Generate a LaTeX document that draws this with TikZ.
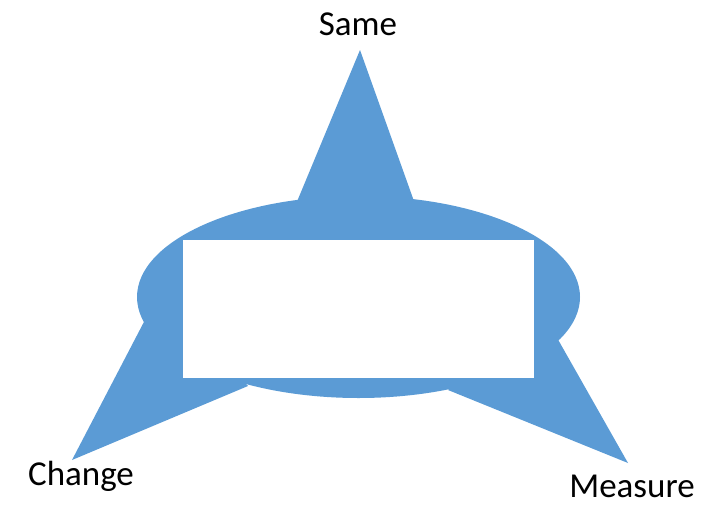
\documentclass[tikz,border=0pt]{standalone}
\usepackage{fontspec}
\setmainfont{Carlito}
\definecolor{officeblue}{HTML}{5B9BD5}
\tikzset{
  blueshape/.style={fill=officeblue, draw=none},
  lbl/.style={font=\fontsize{35}{40}\selectfont, text=black, inner sep=0pt, anchor=base}
}
\begin{document}
\begin{tikzpicture}[x=1pt,y=-1pt]
\useasboundingbox (0,0) rectangle (723,504);
% central ellipse
\fill[blueshape] (358.5,297) ellipse [x radius=221.5, y radius=101];
% top triangle
\coordinate (topapex) at (360,50);
\fill[blueshape] (296,204) -- (topapex) -- (415,204) -- cycle;
% left triangle
\coordinate (leftapex) at (72,460);
\fill[blueshape] (146,318) -- (leftapex) -- (248,386) -- (200,330) -- cycle;
% right triangle
\coordinate (rightapex) at (628,463);
\fill[blueshape] (556,336) -- (rightapex) -- (448,390) -- (500,340) -- cycle;
% white rectangle
\node[fill=white, draw=none, minimum width=351pt, minimum height=138pt, inner sep=0pt, anchor=north west] (box) at (183,240) {};
% labels
\node[lbl] (same) at (358,35) {Same};
\node[lbl] (change) at (81,485) {Change};
\node[lbl] (measure) at (632,497) {Measure};
\end{tikzpicture}
\end{document}
